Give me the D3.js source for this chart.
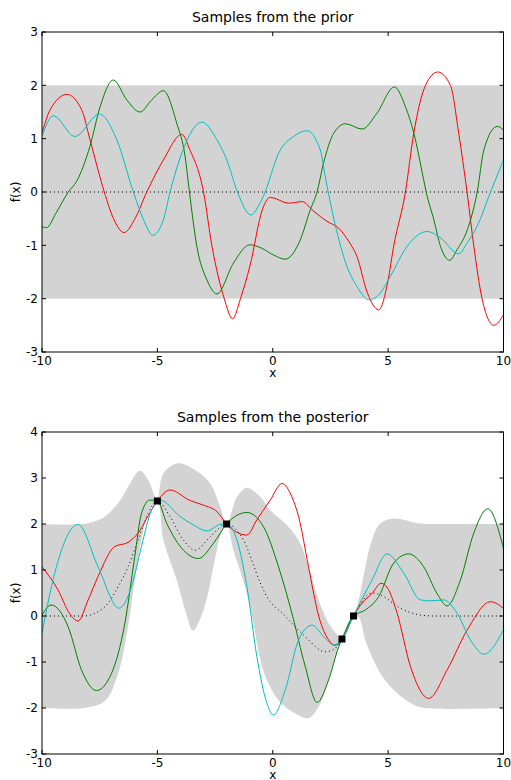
<!DOCTYPE html>
<html>
  <head>
    <meta charset="utf-8">
    <title>Samples from a Gaussian process</title>
    <script src="https://cdn.jsdelivr.net/npm/d3@7"></script>
    <style>
      body { margin: 0; background: #fff; }
      svg { font-family: "DejaVu Sans", sans-serif; }
      .frame { fill: none; stroke: #000; stroke-width: 1; }
      .tick { stroke: #000; stroke-width: 1; }
      .tickLabel { font-size: 12px; fill: #000; }
      .sample { fill: none; stroke-width: 1; }
      .mean { fill: none; stroke: #000; stroke-width: 1; stroke-dasharray: 1, 3; }
    </style>
  </head>

  <body>
    <svg id="chart" width="511" height="780"></svg>

    <script>
      // tick values
      xTicks = [-10, -5, 0, 5, 10];
      priorYTicks = [-3, -2, -1, 0, 1, 2, 3];
      postYTicks = [-3, -2, -1, 0, 1, 2, 3, 4];

      // prior: band is +/- 2 around a zero mean
      priorBand = [-2, 2];
      priorMean = [[-10, 0], [10, 0]];
      priorRed = [[-10, 1.1], [-9.65, 1.54], [-8.92, 1.83], [-8.28, 1.54], [-7.92, 0.98], [-7.3, 0], [-6.9, -0.5],
        [-6.44, -0.76], [-5.97, -0.5], [-5.46, 0], [-4.74, 0.6], [-3.94, 1.08], [-3.6, 0.8], [-3.0, 0], [-2.64, -1.0],
        [-2.1, -2.0], [-1.74, -2.38], [-1.4, -2.0], [-0.98, -1.37], [-0.45, -0.33], [-0.11, -0.1], [0.69, -0.21],
        [1.27, -0.18], [1.77, -0.36], [2.35, -0.55], [2.86, -0.68], [3.3, -0.93], [3.65, -1.21], [4.1, -1.89],
        [4.59, -2.21], [5.0, -1.65], [5.24, -1.02], [5.75, 0], [6.11, 1.1], [6.62, 2.0], [7.15, 2.25], [7.7, 2.0],
        [8.06, 1.1], [8.42, 0], [8.71, -1.0], [9.07, -2.0], [9.58, -2.5], [10, -2.3]];
      priorGreen = [[-10, -0.65], [-9.8, -0.67], [-9.4, -0.4], [-8.86, 0], [-8.5, 0.2], [-7.92, 0.86], [-7.48, 1.6],
        [-6.91, 2.1], [-6.33, 1.73], [-5.75, 1.5], [-5.24, 1.73], [-4.74, 1.9], [-4.16, 1.29], [-3.8, 0.67],
        [-3.61, 0], [-3.29, -1.02], [-2.85, -1.65], [-2.42, -1.91], [-1.7, -1.33], [-1.0, -0.99], [-0.5, -1.05],
        [0.03, -1.18], [0.54, -1.26], [1.19, -0.9], [1.63, -0.33], [1.92, 0], [2.2, 0.54], [2.64, 1.1], [3.15, 1.28],
        [3.87, 1.18], [4.52, 1.48], [5.27, 1.97], [5.75, 1.6], [6.11, 1.11], [6.54, 0.23], [6.65, 0], [6.98, -0.52],
        [7.27, -1.02], [7.67, -1.28], [7.99, -1.08], [8.43, -0.71], [8.86, 0], [9.15, 0.79], [9.73, 1.23], [10, 1.16]];
      priorCyan = [[-10, 1.05], [-9.51, 1.43], [-8.57, 1.04], [-7.51, 1.46], [-6.76, 0.98], [-6.04, 0], [-5.6, -0.52],
        [-5.2, -0.81], [-4.74, -0.52], [-4.45, 0], [-3.94, 0.73], [-3.07, 1.31], [-2.42, 0.98], [-1.99, 0.6],
        [-1.53, 0], [-0.95, -0.43], [-0.48, -0.15], [0.33, 0.79], [0.9, 1.04], [1.48, 1.15], [2.06, 0.79], [2.3, 0.23],
        [2.7, -0.6], [3.22, -1.4], [3.65, -1.77], [4.16, -2.02], [4.59, -1.93], [5.1, -1.58], [5.82, -1.02],
        [6.69, -0.74], [7.27, -0.86], [8.06, -1.16], [8.43, -0.95], [8.86, -0.64], [9.44, 0], [10, 0.6]];

      // posterior: observations, band edges, mean and samples
      obsX = [-5, -2, 3, 3.5];
      obsY = [2.5, 2.0, -0.5, 0];
      postUpper = [[-10, 2], [-8.2, 2], [-7.5, 2.1], [-7.28, 2.16], [-6.7, 2.45], [-6.27, 2.81], [-5.76, 3.16],
        [-5.4, 2.96], [-5.11, 2.6], [-5, 2.5], [-4.74, 3.1], [-4.09, 3.32], [-3.15, 3.1], [-2.71, 2.88], [-2.28, 2.38],
        [-2, 2.0], [-1.55, 2.59], [-1.12, 2.79], [-0.54, 2.59], [-0.11, 2.3], [0.54, 2.01], [1.12, 1.65], [1.55, 1.07],
        [1.99, 0.35], [2.42, -0.16], [2.78, -0.4], [3, -0.5], [3.25, -0.15], [3.5, 0], [3.75, 0.4], [4.01, 1.07],
        [4.3, 1.65], [4.66, 2.01], [5.24, 2.12], [6.4, 2.01], [7, 2], [10, 2]];
      postLower = [[-10, -2], [-8.2, -2], [-7.28, -1.85], [-6.7, -1.25], [-6.27, -0.23], [-5.98, 0.78], [-5.69, 1.65],
        [-5.4, 2.23], [-5, 2.5], [-4.74, 1.65], [-4.16, 0.78], [-3.72, 0], [-3.46, -0.32], [-3.0, 0.13], [-2.57, 1.07],
        [-2.28, 1.72], [-2, 2.0], [-1.7, 1.43], [-1.3, 0.8], [-0.98, 0.2], [-0.6, -0.8], [-0.33, -1.3], [0.25, -1.83],
        [0.98, -2.12], [1.55, -2.22], [1.99, -1.97], [2.42, -1.39], [2.78, -0.81], [3, -0.5], [3.25, -0.35], [3.5, 0],
        [3.75, -0.05], [4.01, -0.52], [4.4, -1.0], [4.8, -1.35], [5.39, -1.68], [6.11, -1.93], [6.6, -2], [10, -2]];
      postMean = [[-10, 0], [-8.2, 0], [-7.28, 0.2], [-6.7, 0.64], [-6.27, 1.07], [-5.84, 1.65], [-5.4, 2.23], [-5, 2.5],
        [-4.45, 2.16], [-3.87, 1.65], [-3.36, 1.43], [-2.71, 1.72], [-2, 2.0], [-1.27, 1.65], [-0.54, 0.72],
        [-0.33, 0.49], [0.54, 0], [1.41, -0.45], [2.28, -0.78], [2.71, -0.7], [3, -0.5], [3.5, 0], [4.3, 0.5],
        [4.66, 0.46], [5.53, 0.17], [6.4, 0.02], [7, 0], [10, 0]];
      postRed = [[-10, 1.07], [-9.31, 0.57], [-8.8, 0.05], [-8.44, -0.11], [-8.0, 0.35], [-7.57, 0.86], [-6.85, 1.51],
        [-6.27, 1.6], [-5.84, 1.8], [-5.26, 2.3], [-5, 2.5], [-4.45, 2.74], [-3.58, 2.51], [-3.0, 2.41], [-2.42, 2.27],
        [-2, 2.0], [-1.63, 1.84], [-1.12, 1.76], [-0.69, 2.09], [-0.11, 2.52], [0.4, 2.88], [0.83, 2.59], [1.12, 2.16],
        [1.55, 1.07], [1.99, 0], [2.42, -0.52], [2.71, -0.64], [3, -0.5], [3.5, 0], [3.87, 0.28], [4.3, 0.49],
        [4.7, 0.71], [5.02, 0.57], [5.39, 0.06], [5.97, -1.1], [6.76, -1.79], [7.56, -1.17], [8.43, -0.3],
        [9.44, 0.31], [10, 0.17]];
      postGreen = [[-10, 0.02], [-9.6, 0.24], [-8.87, -0.23], [-8.29, -1.17], [-7.64, -1.62], [-6.99, -1.25],
        [-6.41, -0.16], [-5.98, 1.29], [-5.69, 2.23], [-5.33, 2.52], [-5, 2.5], [-4.59, 2.01], [-3.87, 1.43],
        [-3.22, 1.25], [-2.57, 1.58], [-2, 2.0], [-1.12, 2.25], [-0.4, 1.94], [0.25, 1.07], [0.83, 0.06], [1.41, -1.1],
        [1.92, -1.88], [2.42, -1.39], [2.86, -0.67], [3, -0.5], [3.5, 0], [4.01, 0.13], [4.59, 0.42], [5.24, 1.15],
        [5.89, 1.35], [6.54, 1.07], [7.12, 0.49], [7.56, 0.22], [8.13, 0.78], [8.71, 1.8], [9.32, 2.33], [10, 1.47]];
      postCyan = [[-10, -0.38], [-9.45, 0.93], [-8.44, 1.99], [-7.57, 1.07], [-6.66, 0.17], [-6.12, 0.64],
        [-5.69, 1.51], [-5.26, 2.3], [-5, 2.5], [-4.88, 2.52], [-4.01, 2.16], [-3.44, 1.98], [-2.85, 1.85],
        [-2.28, 1.99], [-2, 2.0], [-1.55, 1.65], [-1.12, 0.64], [-0.69, -0.88], [-0.25, -1.9], [0.03, -2.15],
        [0.54, -1.61], [1.12, -0.52], [1.7, -0.2], [2.28, -0.49], [2.64, -0.63], [3, -0.5], [3.5, 0], [4.3, 0.78],
        [4.95, 1.35], [5.68, 0.93], [6.4, 0.35], [6.83, 0.33], [7.41, 0.35], [7.99, 0.06], [8.57, -0.52],
        [9.15, -0.83], [10, -0.3]];

      colours = { red: "#ff0000", green: "#008000", cyan: "#00bfbf" };
      bandColour = "#d3d3d3";

      svg = d3.select("#chart");
      left = 42;
      right = 503.5;

      x = d3.scaleLinear()
        .domain([-10, 10])
        .range([left, right]);

      function drawPanel(id, title, top, bottom, yDomain, yTicks, titleY) {
        y = d3.scaleLinear()
          .domain(yDomain)
          .range([bottom, top]);
        g = svg.append("g").attr("id", id);

        g.append("clipPath")
          .attr("id", id + "Clip")
          .append("rect")
            .attr("x", left)
            .attr("y", top)
            .attr("width", right - left)
            .attr("height", bottom - top);

        plot = g.append("g").attr("clip-path", "url(#" + id + "Clip)");

        // title and labels
        g.append("text")
          .attr("x", (left + right) / 2)
          .attr("y", titleY)
          .attr("text-anchor", "middle")
          .style("font-size", "14px")
          .text(title);
        g.append("text")
          .attr("x", (left + right) / 2)
          .attr("y", bottom + 25)
          .attr("text-anchor", "middle")
          .style("font-size", "12px")
          .text("x");
        g.append("text")
          .attr("transform", "translate(20," + ((top + bottom) / 2) + ") rotate(-90)")
          .attr("text-anchor", "middle")
          .style("font-size", "12px")
          .text("f(x)");

        return { g: g, plot: plot, y: y, top: top, bottom: bottom, yTicks: yTicks };
      }

      function drawFrame(p) {
        // ticks point inwards on all four sides
        xTicks.forEach(function(d) {
          p.g.append("line").attr("class", "tick")
            .attr("x1", x(d)).attr("x2", x(d)).attr("y1", p.bottom).attr("y2", p.bottom - 4);
          p.g.append("line").attr("class", "tick")
            .attr("x1", x(d)).attr("x2", x(d)).attr("y1", p.top).attr("y2", p.top + 4);
          p.g.append("text").attr("class", "tickLabel")
            .attr("x", x(d))
            .attr("y", p.bottom + 13)
            .attr("text-anchor", "middle")
            .text(d);
        });
        p.yTicks.forEach(function(d) {
          p.g.append("line").attr("class", "tick")
            .attr("x1", left).attr("x2", left + 4).attr("y1", p.y(d)).attr("y2", p.y(d));
          p.g.append("line").attr("class", "tick")
            .attr("x1", right).attr("x2", right - 4).attr("y1", p.y(d)).attr("y2", p.y(d));
          p.g.append("text").attr("class", "tickLabel")
            .attr("x", left - 4)
            .attr("y", p.y(d))
            .attr("dy", "0.36em")
            .attr("text-anchor", "end")
            .text(d);
        });
        p.g.append("rect").attr("class", "frame")
          .attr("x", left)
          .attr("y", p.top)
          .attr("width", right - left)
          .attr("height", p.bottom - p.top);
      }

      function sampleLine(p) {
        return d3.line()
          .x(function(d) { return x(d[0]); })
          .y(function(d) { return p.y(d[1]); })
          .curve(d3.curveMonotoneX);
      }

      // prior panel
      prior = drawPanel("prior", "Samples from the prior", 32, 352, [-3, 3], priorYTicks, 22);
      prior.plot.append("rect")
        .attr("x", x(-10))
        .attr("y", prior.y(priorBand[1]))
        .attr("width", x(10) - x(-10))
        .attr("height", prior.y(priorBand[0]) - prior.y(priorBand[1]))
        .attr("fill", bandColour);
      line = sampleLine(prior);
      prior.plot.append("path").attr("class", "mean").attr("d", line(priorMean));
      [[priorRed, colours.red], [priorGreen, colours.green], [priorCyan, colours.cyan]].forEach(function(s) {
        prior.plot.append("path")
          .attr("class", "sample")
          .attr("stroke", s[1])
          .attr("d", line(s[0]));
      });
      drawFrame(prior);

      // posterior panel
      post = drawPanel("post", "Samples from the posterior", 432, 754, [-3, 4], postYTicks, 422);
      bandLine = d3.line()
        .x(function(d) { return x(d[0]); })
        .y(function(d) { return post.y(d[1]); })
        .curve(d3.curveCatmullRom.alpha(0.5));
      post.plot.append("path")
        .attr("fill", bandColour)
        .attr("d", bandLine(postUpper) + "L" + bandLine(postLower.slice().reverse()).slice(1) + "Z");
      line = sampleLine(post);
      post.plot.append("path").attr("class", "mean").attr("d", line(postMean));
      [[postRed, colours.red], [postGreen, colours.green], [postCyan, colours.cyan]].forEach(function(s) {
        post.plot.append("path")
          .attr("class", "sample")
          .attr("stroke", s[1])
          .attr("d", line(s[0]));
      });
      post.g.selectAll(".obs")
        .data(obsX)
        .enter()
        .append("rect")
          .attr("class", "obs")
          .attr("x", function(d) { return x(d) - 3.5; })
          .attr("y", function(d, i) { return post.y(obsY[i]) - 3.5; })
          .attr("width", 7)
          .attr("height", 7)
          .attr("fill", "#000");
      drawFrame(post);
    </script>
  </body>
</html>
